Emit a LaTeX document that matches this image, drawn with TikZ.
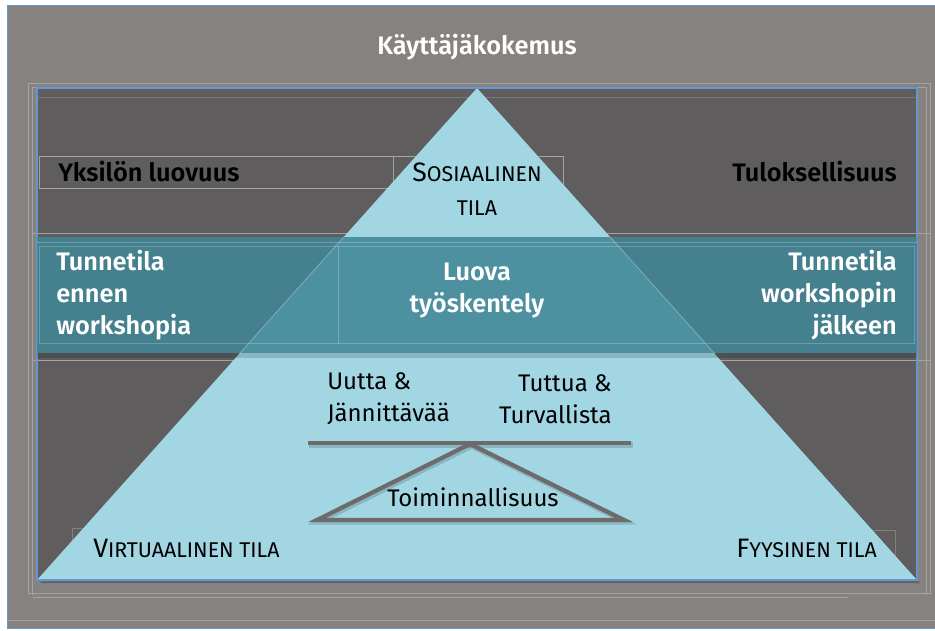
\documentclass[tikz,border=0pt]{standalone}
\usepackage{fontspec}
\setmainfont{Fira Sans}[BoldFont={Fira Sans SemiBold}]
\definecolor{outergray}{RGB}{133,130,128}
\definecolor{innerdark}{RGB}{95,93,93}
\definecolor{triblue}{RGB}{163,214,227}
\definecolor{bandteal}{RGB}{64,134,151}
\definecolor{levergray}{RGB}{108,108,108}
\definecolor{frameblue}{RGB}{100,150,215}
\definecolor{faint}{RGB}{165,163,161}
\newcommand{\fakesc}[2]{{\fontsize{20}{24}\selectfont #1}{\fontsize{16}{24}\selectfont #2}}
\newcommand{\allsc}[1]{{\fontsize{16}{24}\selectfont #1}}
\tikzset{
  faintline/.style={draw=faint, line width=0.7},
  boldwhite/.style={font=\fontsize{19}{24}\selectfont\bfseries, text=white, inner sep=0},
  boldblack/.style={font=\fontsize{19}{24}\selectfont\bfseries, text=black, inner sep=0},
  plain/.style={font=\fontsize{18}{24}\selectfont, text=black, inner sep=0},
  sclabel/.style={font=\fontsize{16}{26}\selectfont, text=black, inner sep=0},
  lever/.style={draw=levergray, line width=3.2, line cap=rect, line join=miter},
  levershadow/.style={draw=black, opacity=0.15, line width=4, line cap=rect, line join=miter},
}
\begin{document}
\begin{tikzpicture}[x=0.75pt,y=-0.75pt]
\useasboundingbox (0,0) rectangle (935,631);
\fill[white] (0,0) rectangle (935,631);
% outer frame
\fill[outergray] (7,5) rectangle (935,629);
\draw[frameblue, line width=1.2] (935,5.6) -- (7.6,5.6) -- (7.6,628.4) -- (935,628.4);
% faint construction lines
\draw[faintline] (28,593) -- (28,83) -- (930,83) -- (930,593) -- cycle;
\draw[faintline] (32,595) -- (32,87) -- (926,87) -- (926,595);
\draw[faintline] (8,620) -- (935,620);
\draw[faintline] (33,597) -- (848,597);
% inner dark area
\fill[innerdark] (37,88) rectangle (917,580);
\draw[faintline, opacity=0.35] (37,97) -- (917,97);
\draw[faintline] (33,233) -- (930,233);
\draw[faintline] (33,360) -- (930,360);
% upper label boxes (below triangle)
\draw[faintline] (39,156) rectangle (393,188);
\draw[faintline] (393,156) rectangle (563,188);
\draw[faintline, opacity=0.5] (72,528) rectangle (114,560);
\draw[faintline, opacity=0.5] (845,530) rectangle (895,560);
% pyramid
\coordinate (apex) at (477,88);
\coordinate (bl) at (37,580);
\coordinate (br) at (917,580);
\fill[black, opacity=0.22] ([shift={(3,3)}]apex) -- ([shift={(3,3)}]br) -- ([shift={(3,3)}]bl) -- cycle;
\fill[triblue] (apex) -- (br) -- (bl) -- cycle;
\draw[frameblue, line width=1] (37,580) rectangle (917,88);
% band
\fill[black, opacity=0.15] (37,353) rectangle (917,358);
\fill[bandteal, opacity=0.86] (37,237) rectangle (917,353);
\draw[white, opacity=0.22, line width=0.6] (37,242) -- (917,242);
\draw[white, opacity=0.22, line width=0.6] (39,246) rectangle (914,343);
\draw[white, opacity=0.22, line width=0.6] (338,246) -- (338,343);
\begin{scope}
  \clip (37,237) rectangle (917,353);
  \draw[white, opacity=0.3, line width=0.6] (apex) -- (bl);
  \draw[white, opacity=0.3, line width=0.6] (apex) -- (br);
\end{scope}
% title and side labels
\node[boldwhite] (title) at (477,47) {Käyttäjäkokemus};
\node[boldblack, anchor=west] (yksilo) at (58,172) {Yksilön luovuus};
\node[boldblack, anchor=east] (tulos) at (897,172) {Tuloksellisuus};
\node[sclabel, align=center] (sosiaalinen) at (477,189) {\fakesc{S}{OSIAALINEN}\\\allsc{TILA}};
\node[boldwhite, anchor=west, align=left] (ennen) at (56,295) {Tunnetila\\ennen\\workshopia};
\node[boldwhite, align=center] (luova) at (477,291) {Luova\\työskentely};
\node[boldwhite, anchor=east, align=right] (jalkeen) at (897,295) {Tunnetila\\workshopin\\jälkeen};
\node[plain, anchor=west, align=left] (uutta) at (327,399) {Uutta \&\\Jännittävää};
\node[plain, anchor=east, align=right] (tuttua) at (612,399) {Tuttua \&\\Turvallista};
% lever and fulcrum
\coordinate (barL) at (310,443);
\coordinate (barR) at (629,443);
\coordinate (pivot) at (470,444);
\coordinate (baseL) at (317,520);
\coordinate (baseR) at (624,520);
\draw[levershadow] ([shift={(1.5,2)}]barL) -- ([shift={(1.5,2)}]barR);
\draw[levershadow] ([shift={(1.5,2)}]pivot) -- ([shift={(1.5,2)}]baseR) -- ([shift={(1.5,2)}]baseL) -- cycle;
\draw[lever] (barL) -- (barR);
\draw[lever] (pivot) -- (baseR) -- (baseL) -- cycle;
\node[plain] (toim) at (473,497) {Toiminnallisuus};
% bottom labels
\node[sclabel, anchor=west] (virtuaalinen) at (93,548) {\fakesc{V}{IRTUAALINEN TILA}};
\node[sclabel, anchor=east] (fyysinen) at (877,548) {\fakesc{F}{YYSINEN TILA}};
\end{tikzpicture}
\end{document}
